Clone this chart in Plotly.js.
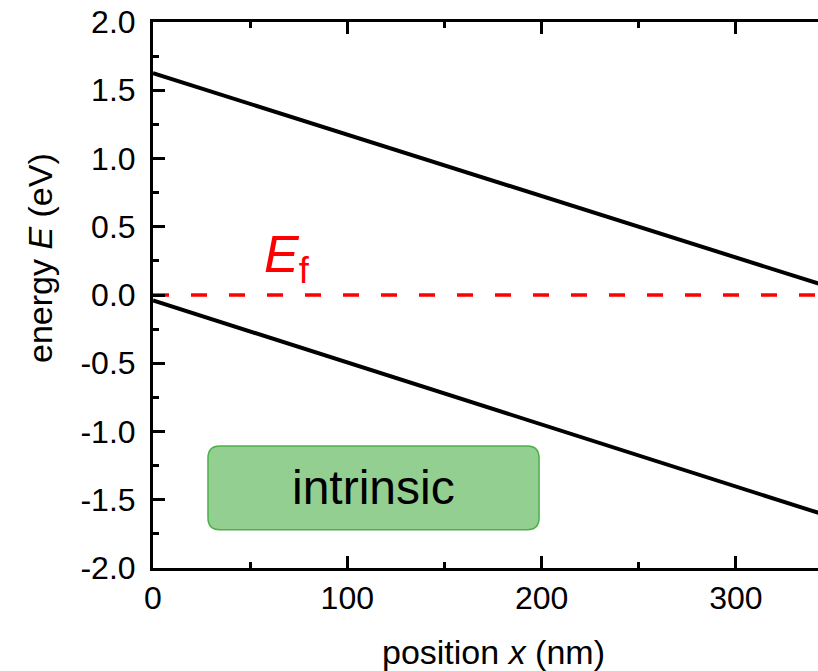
<!DOCTYPE html>
<html>
<head>
<meta charset="utf-8">
<script src="https://cdn.plot.ly/plotly-3.0.1.min.js"></script>
<style>
html, body { margin:0; padding:0; overflow:hidden; background:#fff; }
#chart { width:850px; height:671px; }
</style>
</head>
<body>
<div id="chart"></div>
<script>
// Data
const positionX = [0, 350];
const conductionBand = [1.625, 0.05];
const valenceBand = [-0.04, -1.63];
const fermiX = [0, 350];
const fermiLevel = [0, 0];

const xTickVals = [0, 100, 200, 300];
const xTickText = ['0', '100', '200', '300'];
const yTickVals = [-2, -1.5, -1, -0.5, 0, 0.5, 1, 1.5, 2];
const yTickText = ['-2.0', '-1.5', '-1.0', '-0.5', '0.0', '0.5', '1.0', '1.5', '2.0'];

const boxX = [28.3, 198.7];
const boxY = [-1.72, -1.106];

const FONT = 'Liberation Sans, Arial, sans-serif';

const traces = [
  {x: positionX, y: conductionBand, mode: 'lines', line: {color: '#000', width: 4}, hoverinfo: 'skip'},
  {x: positionX, y: valenceBand, mode: 'lines', line: {color: '#000', width: 4}, hoverinfo: 'skip'},
  {x: fermiX, y: fermiLevel, mode: 'lines', line: {color: '#ff0000', width: 3.5, dash: '16px,22px'}, hoverinfo: 'skip'}
];

// rounded rectangle path (radius in px converted to data units)
const pxPerX = 680 / 350, pxPerY = 546 / 4;
const r = 12, rx = r / pxPerX, ry = r / pxPerY;
const [x0, x1] = boxX, [y0, y1] = boxY;
const path = `M ${x0+rx},${y0} L ${x1-rx},${y0} Q ${x1},${y0} ${x1},${y0+ry} L ${x1},${y1-ry} Q ${x1},${y1} ${x1-rx},${y1} L ${x0+rx},${y1} Q ${x0},${y1} ${x0},${y1-ry} L ${x0},${y0+ry} Q ${x0},${y0} ${x0+rx},${y0} Z`;

const axisCommon = {
  showline: true, linecolor: '#000', linewidth: 3, mirror: 'ticks',
  ticks: 'inside', ticklen: 12, tickwidth: 3, tickcolor: '#000',
  showgrid: false, zeroline: false,
  tickfont: {family: FONT, size: 32, color: '#000'}
};

const layout = {
  width: 850, height: 671,
  margin: {l: 153, r: 17, t: 22, b: 103},
  paper_bgcolor: '#fff', plot_bgcolor: '#fff',
  showlegend: false,
  font: {family: FONT, color: '#000'},
  xaxis: Object.assign({}, axisCommon, {
    range: [0, 350], tickmode: 'array', tickvals: xTickVals, ticktext: xTickText,
    minor: {dtick: 50, ticklen: 6, tickwidth: 3, tickcolor: '#000', ticks: 'inside'},
    ticklabelstandoff: 0
  }),
  yaxis: Object.assign({}, axisCommon, {
    range: [-2, 2], tickmode: 'array', tickvals: yTickVals, ticktext: yTickText,
    minor: {dtick: 0.25, ticklen: 6, tickwidth: 3, tickcolor: '#000', ticks: 'inside'},
    ticklabelstandoff: 8
  }),
  shapes: [
    {type: 'path', xref: 'x', yref: 'y', path: path, fillcolor: '#93cf90',
     line: {color: '#4cb04a', width: 1.5}, layer: 'below'}
  ],
  annotations: [
    {xref: 'x', yref: 'y', x: (x0 + x1) / 2, y: (y0 + y1) / 2, text: 'intrinsic', showarrow: false,
     font: {family: FONT, size: 48, color: '#000'}, xanchor: 'center', yanchor: 'middle'},
    {xref: 'x', yref: 'y', x: 56, y: 0.27, text: '<i>E</i><sub>f</sub>', showarrow: false,
     font: {family: FONT, size: 52, color: '#ff0000'}, xanchor: 'left', yanchor: 'middle'},
    {xref: 'paper', yref: 'paper', x: 0.5, y: -(652 - 568) / 546, text: 'position <i>x</i> (nm)', showarrow: false,
     font: {family: FONT, size: 34, color: '#000'}, xanchor: 'center', yanchor: 'middle'},
    {xref: 'paper', yref: 'paper', x: 0, xshift: -113, y: (671 - 103 - 258) / 546, text: 'energy <i>E</i> (eV)', showarrow: false,
     textangle: -90, font: {family: FONT, size: 34, color: '#000'}, xanchor: 'center', yanchor: 'middle'}
  ]
};

Plotly.newPlot('chart', traces, layout, {displayModeBar: false, staticPlot: true});
</script>
</body>
</html>
